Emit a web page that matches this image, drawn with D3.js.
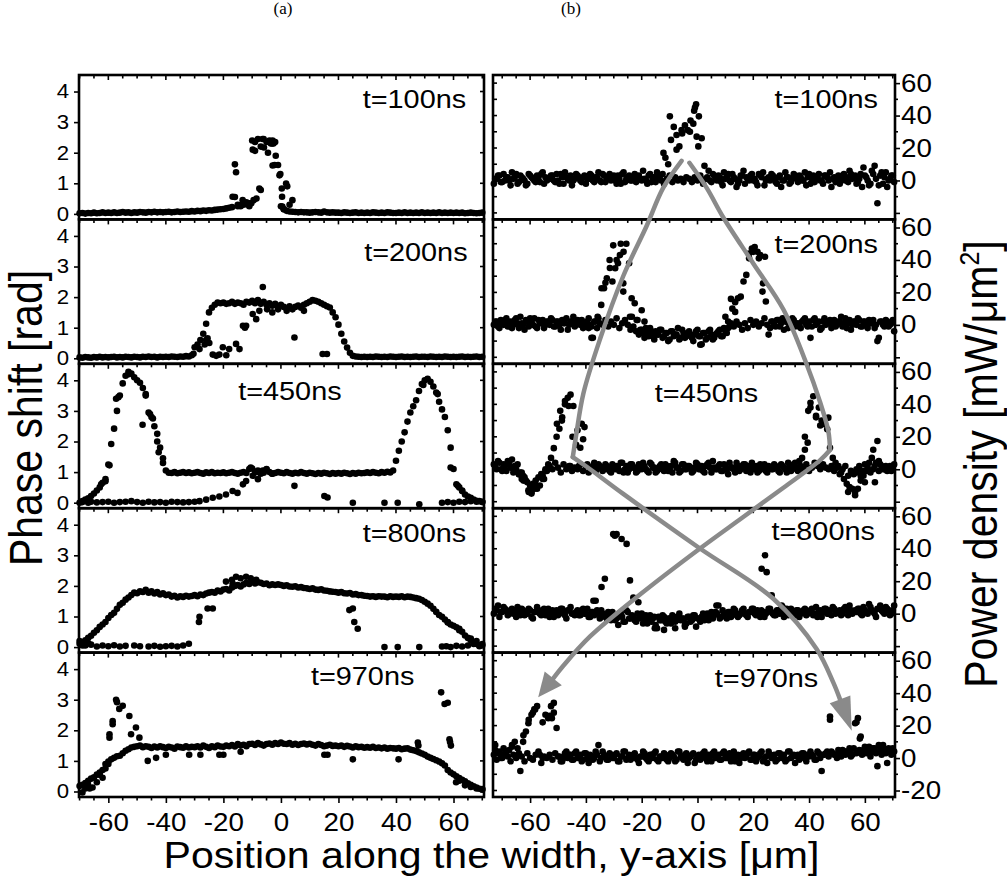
<!DOCTYPE html>
<html><head><meta charset="utf-8">
<script src="https://cdn.jsdelivr.net/npm/d3@7"></script>
<style>body{margin:0;background:#fff}svg{display:block}</style>
</head><body><svg id="c" width="1007" height="885"></svg>
<script>
// ---------------- DATA ----------------
const timeLabels = ["t=100ns","t=200ns","t=450ns","t=800ns","t=970ns"];
const panelTags = ["(a)","(b)"];
const titleLeft = "Phase shift [rad]";
const titleX = "Position along the width, y-axis [\u03bcm]";
const xMajorTicks = [-60,-40,-20,0,20,40,60];
const xMinorTicks = [-70,-65,-55,-50,-45,-35,-30,-25,-15,-10,-5,5,10,15,25,30,35,45,50,55,65,70];
const phaseTicks = [0,1,2,3,4];
const powerTicks = [-20,0,20,40,60];
const powerMinor = [-10,10,30,50];

// sample positions (um)
const posL = [-70,-69,-68,-67,-66,-65,-64,-63,-62,-61,-60,-59,-58,-57,-56,-55,-54,-53,-52,-51,
-50,-49,-48,-47,-46,-45,-44,-43,-42,-41,-40,-39,-38,-37,-36,-35,-34,-33,-32,-31,
-30,-29,-28,-27,-26,-25,-24,-23,-22,-21,-20,-19,-18,-17,-16,-15,-14,-13,-12,-11,
-10,-9,-8,-7,-6,-5,-4,-3,-2,-1,0,1,2,3,4,5,6,7,8,9,10,11,12,13,14,15,16,17,18,19,
20,21,22,23,24,25,26,27,28,29,30,31,32,33,34,35,36,37,38,39,40,41,42,43,44,45,46,47,48,49,
50,51,52,53,54,55,56,57,58,59,60,61,62,63,64,65,66,67,68,69,70];
const posR = [-73,-72,-71,-70,-69,-68,-67,-66,-65,-64,-63,-62,-61,-60,-59,-58,-57,-56,-55,-54,
-53,-52,-51,-50,-49,-48,-47,-46,-45,-44,-43,-42,-41,-40,-39,-38,-37,-36,-35,-34,
-33,-32,-31,-30,-29,-28,-27,-26,-25,-24,-23,-22,-21,-20,-19,-18,-17,-16,-15,-14,
-13,-12,-11,-10,-9,-8,-7,-6,-5,-4,-3,-2,-1,0,1,2,3,4,5,6,7,8,9,10,11,12,13,14,15,16,
17,18,19,20,21,22,23,24,25,26,27,28,29,30,31,32,33,34,35,36,37,38,39,40,41,42,43,44,45,46,
47,48,49,50,51,52,53,54,55,56,57,58,59,60,61,62,63,64,65,66,67,68,69,70];

// Phase shift, column (a)
const phase100 = [0.02,0.03,0.01,0.03,0.02,0.04,0.02,0.03,0.05,0.03, 0.04,0.03,0.05,0.03,0.04,0.06,0.04,0.05,0.03,0.05,
0.04,0.06,0.05,0.04,0.06,0.05,0.07,0.05,0.06,0.05, 0.06,0.07,0.05,0.06,0.08,0.06,0.07,0.08,0.07,0.09,
0.08,0.1,0.09,0.11,0.1,0.12,0.11,0.13,0.14,0.15, 0.16,0.18,0.2,0.22,0.55,0.25,0.28,0.3,0.32,0.35,
2.4,2.35,2.45,2.2,2.45,2.35,2.4,2.3,2.35,1.6, 0.25,0.15,0.1,0.08,0.07,0.06,0.05,0.06,0.05,0.05,
0.04,0.05,0.06,0.05,0.04,0.08,0.05,0.04,0.05,0.04, 0.04,0.03,0.05,0.04,0.03,0.04,0.05,0.03,0.04,0.03,
0.04,0.03,0.05,0.04,0.03,0.04,0.03,0.05,0.04,0.03, 0.03,0.04,0.03,0.05,0.03,0.04,0.03,0.04,0.03,0.05,
0.03,0.04,0.03,0.04,0.03,0.05,0.03,0.04,0.03,0.04, 0.03,0.04,0.03,0.04,0.02,0.03,0.04,0.03,0.02,0.03,0.04];
const phase100x = [[-16.8,0.56],[-16,1.62],[-15.6,1.36],[-15,0.3],[-13.3,0.45],[-12,0.38],[-10.3,0.35],[-9.5,0.45],[-8.5,0.5],[-7.5,0.83],[-7,0.78],[-9.8,2.1],[-9,2.06],[-6.4,2.45],[-5.9,2.17],[-4.5,2.0],[-3.5,2.3],[-2.9,2.4],[-2.6,2.3],[-1.8,1.9],[-2.9,1.58],[-2.2,1.6],[-0.5,1.26],[-0.2,1.3],[1.8,0.99],[2.2,0.9],[0.3,0.83],[0.4,0.56],[4,0.45],[3,0.3],[0.5,0.24],[1,0.15],[-14,0.25],[-11,0.25]];

const phase200 = [0.03,0.02,0.04,0.03,0.02,0.04,0.03,0.05,0.03,0.04, 0.03,0.04,0.05,0.03,0.04,0.03,0.05,0.04,0.03,0.05,
0.04,0.03,0.05,0.04,0.06,0.04,0.05,0.03,0.05,0.04, 0.05,0.04,0.06,0.05,0.04,0.06,0.05,0.07,0.06,0.1,
0.36,0.45,0.6,0.8,1.13,1.5,1.65,1.75,1.82,1.8, 1.82,1.78,1.8,1.85,1.78,1.82,1.8,1.75,1.85,1.82,
1.88,1.8,1.9,1.78,1.85,1.75,1.8,1.72,1.78,1.7, 1.75,1.68,1.62,1.7,1.6,1.68,1.72,1.65,1.75,1.8,
1.85,1.9,1.88,1.85,1.8,1.75,1.7,1.66,1.5,1.34, 1.1,0.8,0.55,0.35,0.18,0.08,0.06,0.05,0.04,0.05,
0.04,0.05,0.04,0.06,0.05,0.04,0.05,0.04,0.06,0.05, 0.04,0.05,0.06,0.04,0.05,0.04,0.05,0.06,0.04,0.05,
0.05,0.04,0.06,0.05,0.04,0.05,0.04,0.06,0.05,0.04, 0.05,0.04,0.05,0.06,0.04,0.05,0.04,0.05,0.06,0.04,0.05];
const phase200x = [[-30.4,0.15],[-28.3,0.3],[-26,0.6],[-24.9,0.5],[-23.7,0.12],[-21.4,0.12],[-20.2,0.36],[-18,0.3],[-15.6,0.47],[-14.4,0.3],[-13.2,1.06],[-12.1,1.06],[-12.5,1.0],[-9.8,1.45],[-8.6,1.28],[-7.5,1.55],[-6.3,2.33],[-4.8,1.6],[-3,1.5],[-1,1.6],[4.7,0.68],[14.5,0.14],[16,0.14],[8,1.55],[2,1.55],[-26.5,0.45],[-25.5,0.65],[-22.5,0.08],[-19,0.1]];

const phase450 = [0.0,0.05,0.1,0.14,0.22,0.3,0.4,0.5,0.65,0.77, 1.25,1.92,2.42,3.0,3.5,3.9,4.15,4.28,4.22,4.1,
4.0,3.92,3.75,3.5,2.95,2.8,2.5,2.25,1.8,1.45, 1.05,0.98,0.97,1.0,0.96,0.98,1.0,0.97,0.99,0.96,
0.98,1.0,0.97,0.95,0.99,0.97,1.0,0.96,0.98,0.97, 0.99,0.96,0.98,1.0,0.97,0.95,0.98,1.0,0.97,1.1,
1.12,1.0,1.05,0.95,0.98,1.08,1.0,0.95,0.97,1.0, 0.98,0.96,1.0,0.97,0.95,0.98,0.96,1.0,0.97,0.95,
0.98,0.96,0.94,0.97,0.95,0.98,0.96,0.94,0.97,0.95, 0.97,0.95,0.98,0.96,0.94,0.97,0.95,0.98,0.96,0.97,
0.99,0.97,1.0,0.98,0.96,1.0,0.98,1.01,0.99,1.05, 1.37,1.7,2.0,2.3,2.65,2.95,3.15,3.35,3.65,3.88,
4.0,4.05,3.95,3.8,3.6,3.3,3.05,2.8,2.37,1.8, 1.1,0.6,0.5,0.38,0.27,0.2,0.16,0.1,0.06,0.05,0.03];
const phase450x = [[-69,0.02],[-67,0.0],[-66,0.03],[-64,0.01],[-62,0.02],[-60,0.03],[-58,0.0],[-56,0.02],[-54,0.03],[-52,0.05],[-50,0.02],[-48,0.0],[-46,0.03],[-44,0.01],[-42,0.02],[-40,0.0],[-38,0.03],[-36,0.02],[-34,0.01],[-32,0.02],[-30,0.03],[-28.3,0.05],[-26,0.1],[-23.7,0.16],[-21.4,0.2],[-19.1,0.27],[-16.8,0.38],[-15.1,0.32],[-13.2,0.6],[-12.1,0.71],[-9.8,0.88],[-8,0.77],[-6.3,1.05],[4.7,0.55],[15.1,0.22],[16.2,0.17],[25,0.0],[36,0.0],[40.6,0.0],[48.1,-0.05],[56,0.0],[58,0.02],[60,0.0],[62,0.03],[64,0.02],[66,0.05],[68,0.03],[70,0.02],[-61,0.7],[-62.5,0.6],[-59.6,1.22],[-57.3,3.4],[-56.5,3.45],[-53,4.2],[-47,3.55],[-48.1,2.55],[-45.5,2.9],[-44.5,2.75],[-43,2.0],[-42.5,1.65],[-41,1.3],[49.5,3.85],[54.5,3.55],[59,1.15],[61.5,0.55],[63,0.4],[-10.5,1.15],[-8.5,1.0],[-5,1.1],[-3,0.95]];

const phase800 = [0.11,0.16,0.22,0.3,0.37,0.47,0.55,0.66,0.74,0.82, 0.95,1.05,1.12,1.25,1.38,1.45,1.55,1.62,1.7,1.78,
1.76,1.82,1.8,1.87,1.78,1.82,1.75,1.8,1.72,1.76, 1.7,1.72,1.65,1.68,1.62,1.66,1.64,1.68,1.65,1.67,
1.7,1.66,1.72,1.7,1.75,1.78,1.8,1.78,1.85,1.82, 1.88,1.9,1.85,1.95,2.0,2.03,1.98,2.05,2.1,2.06,
2.14,2.08,2.12,2.1,2.06,2.08,2.02,2.05,2.03,2.05, 2.03,2.0,2.02,1.98,1.97,1.99,1.95,1.96,1.93,1.92,
1.9,1.92,1.88,1.87,1.89,1.85,1.84,1.82,1.81,1.8, 1.78,1.8,1.76,1.75,1.77,1.72,1.73,1.7,1.7,1.68,
1.67,1.65,1.66,1.64,1.66,1.65,1.65,1.63,1.66,1.64, 1.65,1.64,1.66,1.63,1.65,1.64,1.62,1.6,1.58,1.54,
1.48,1.42,1.35,1.25,1.15,1.05,0.99,0.9,0.82,0.74, 0.7,0.65,0.6,0.5,0.38,0.3,0.22,0.15,0.1,0.06,0.05];
const phase800x = [[-19.1,2.14],[-17,2.2],[-15.6,2.3],[-14,2.25],[-12.1,2.3],[-10.5,2.25],[-8.6,2.2],[-16.8,2.08],[-70,0.2],[-68,0.05],[-66,0.08],[-64,0.02],[-62,0.05],[-60,0.03],[-58,0.06],[-56,0.02],[-54,0.04],[-51,0.05],[-49,0.03],[-46,0.02],[-44,0.04],[-42,0.01],[-40,0.03],[-38,0.04],[-36,0.02],[-34,0.05],[-32,0.11],[-28.3,0.99],[-28.5,0.82],[-25.5,1.26],[-23.7,1.26],[23.8,1.21],[25,1.26],[25.5,0.82],[26.7,0.6],[36,0.0],[40.6,0.0],[48.1,0.0],[56,0.02],[57.5,0.03],[59,0.0],[61,0.04],[63,0.02],[65,0.05],[67,0.1],[69,0.03],[70,0.1],[-69,0.05],[-67,0.12],[58,0.8],[62,0.55],[66,0.28],[68,0.2]];

const phase970 = [0.18,0.22,0.28,0.35,0.42,0.46,0.55,0.62,0.7,0.9, 0.98,1.05,1.1,1.15,1.17,1.25,1.33,1.38,1.44,1.46,
1.48,1.5,1.45,1.48,1.46,1.42,1.47,1.44,1.48,1.45, 1.42,1.46,1.44,1.4,1.47,1.45,1.43,1.48,1.44,1.46,
1.45,1.48,1.44,1.5,1.46,1.42,1.48,1.45,1.5,1.47, 1.46,1.5,1.48,1.52,1.47,1.55,1.5,1.53,1.48,1.55,
1.56,1.52,1.58,1.54,1.5,1.55,1.57,1.53,1.58,1.55, 1.6,1.56,1.55,1.58,1.53,1.56,1.52,1.55,1.57,1.54,
1.56,1.53,1.5,1.55,1.52,1.48,1.5,1.53,1.49,1.5, 1.48,1.5,1.46,1.49,1.47,1.44,1.48,1.45,1.46,1.43,
1.45,1.43,1.46,1.42,1.44,1.41,1.44,1.4,1.42,1.41, 1.4,1.42,1.38,1.4,1.41,1.37,1.35,1.32,1.28,1.24,
1.2,1.14,1.1,1.06,1.02,0.98,0.92,0.85,0.7,0.62, 0.56,0.5,0.44,0.38,0.33,0.27,0.22,0.17,0.13,0.09,0.06];
const phase970x = [[-69,-0.03],[-68,0.1],[-66.5,0.1],[-65.5,0.13],[-64,0.3],[-63,0.55],[-62,0.45],[-61,0.75],[-59.6,1.76],[-59.6,1.87],[-58.5,2.2],[-58.5,2.3],[-57.3,3.0],[-57,2.92],[-56.2,2.7],[-55,2.8],[-52.7,2.47],[-52.1,1.87],[-50.4,2.09],[-49.2,1.76],[-46.3,1.0],[-43.4,1.1],[-40,1.2],[-31.9,1.2],[-28,1.2],[-21.4,1.2],[-20,1.2],[-14,1.3],[15.1,1.2],[16.2,1.2],[25,1.05],[40.9,1.05],[47.6,1.6],[47.8,1.5],[55.7,3.24],[56.9,2.86],[58,2.9],[58.6,1.71],[59.1,1.5],[58.8,1.62],[60.9,0.3],[62,0.35],[64,0.2],[66,0.15],[68,0.1],[70,0.08],[-67,0.2],[-60,0.9]];

// Power density, column (b): two interleaved sample rows per panel
const power100 = [1,3,-1,4,2,0,5,2,-2,3, 1,-3,4,2,0,3,-1,5,2,1, 3,0,4,-2,2,5,1,3,0,4, 2,-1,3,1,4,0,2,5,-1,3,
1,4,2,0,3,-2,5,1,3,0, 4,2,1,6,0,3,-1,2,5,1, 4,14,10,25,33,28,21,29,34,31, 37,35,47,39.5,26,9,2,0,4,1,
3,-1,5,2,0,4,1,-2,3,6, 2,0,4,1,-3,3,5,0,2,4, 1,-2,3,0,5,2,-1,4,1,3, 0,5,2,-2,3,1,4,0,3,2,
5,1,-1,3,0,4,2,6,1,3, -1,4,8,2,-3,6,9,-14,3,-2, 5,0,3,-1];
const power100b = [-2,1,3,-1,0,2,-3,1,4,-1, 2,0,-2,3,1,-1,2,4,-2,0, 1,3,-1,0,4,-2,2,0,-3,1, 3,0,2,-2,1,3,-1,2,0,4,
-1,2,0,3,-2,1,4,-1,2,0, 2,-1,3,0,1,-2,4,2,-1,3, 0,-2,1,3,-1,2,0,1,-1,2, 1,-1,2,0,3,-2,1,6,-1,3,
0,2,-3,1,4,-1,2,-4,0,3, -2,1,3,0,-1,4,2,-3,1,0, 3,-1,2,-4,0,2,-2,1,3,-1, 2,0,-3,4,1,-1,2,0,-2,3,
0,-4,2,1,-2,3,0,-1,4,2, -2,1,-4,3,0,-2,4,1,-3,5, 2,-4,1,3];
const power100x = [[-12.2,17],[-9.9,39.5],[-7.5,19],[-5.7,31],[-2.7,30],[-0.9,45],[-0.3,27],[0.3,21],[-1.2,43]];

const power200 = [2,-1,3,0,4,1,-2,3,1,5, 0,3,-1,2,4,-2,1,3,0,2, 4,-1,2,0,3,1,-3,2,5,0, 1,3,-1,2,0,-8,2,4,12.3,22.6,
28.7,40,26.7,34.9,38,50,45,50,38,5, 13.3,3,-3,-5,-2,-7,-4,-9,-6,-3, -8,-5,-10,-4,-7,-6,-9,-3,-8,-5, -6,-10,-4,-7,-12,-5,-8,-3,-9,-6,
-4,-7,-2,-5,-1,10,14,16.4,17.4,26.7, 30.8,44,47,48,45,43,25.6,14.4,-6,2, 0,3,-1,4,2,-2,1,3,0,-1, 2,4,-1,-8,3,0,2,-2,4,1,
3,0,-1,2,5,1,-2,3,0,2, 4,-1,2,0,3,1,-2,-10,2,0, 3,-1,1,-4];
const power200b = [0,2,-2,1,3,-1,2,0,4,-2, 1,-3,2,4,0,-1,3,1,-2,2, 0,3,-1,2,-3,1,4,0,2,-1, 3,0,-2,1,4,-1,2,-2,1,0,
3,-1,2,0,4,-2,1,3,0,-3, -1,-4,-6,-3,-8,-5,-2,-7,-4,-6, -3,-7,-5,-9,-4,-6,-2,-8,-5,-7, -4,-8,-6,-3,-7,-5,-9,-4,-6,-8,
-5,-3,-7,-4,-2,1,-1,2,0,-3, 1,-2,3,0,2,-1,1,4,0,-2, 2,-1,3,1,-3,2,0,4,-1,1, -2,3,0,2,-1,4,1,-3,2,0,
1,-2,3,0,2,-1,4,1,-3,2, 0,3,-1,2,-2,1,3,0,-8,2, -1,2,0,3];
const power200x = [[-35.8,5],[-34.4,22.6],[-33,26],[-31.4,35],[-30.2,49],[-29,40],[-27.8,43],[-26.6,25.6],[-26.6,20.5],[-23.6,16.4],[-24.2,5],[-21.8,3],[-20,9],[-19,2],[1,-12.3],[13.5,8],[12,16],[18.5,41],[20,45],[22,41],[23.3,20.5],[24.2,42],[-38,-8],[-39,-2],[10,5],[11,2]];

const power450 = [2,5,0,3,-1,4,6,2,3,-2, -4,-7,-14,-15,-12,-11,-10,-6,-1,3, 7,13,20,25,32,40,44,46,39,15, 2,28,26,3,0,2,-1,3,1,0,
2,-1,3,0,1,4,-2,2,0,3, 1,-1,2,4,0,-2,3,1,-1,2, 0,3,-1,2,5,1,-2,3,0,2, 1,-1,4,0,2,-2,3,1,5,0,
2,-1,3,0,4,1,-2,2,0,3, -1,2,4,0,-2,3,1,-1,2,0, 3,1,-2,2,0,4,-1,3,1,5, 7,12,16.4,41,45,33,38,30,27.7,24.6,
13.3,7,4,2,-2,-6,-9,-11,-12,-16, -12,-7,-4,-1,4,7,2,17.4,3,0, 2,1,-1,3];
const power450b = [3,0,4,-1,2,5,1,-2,0,-3, -2,-5,-8,-10,-9,-7,-5,-3,-6,-1, 2,0,4,1,-2,3,0,2,-1,1, 0,3,-1,2,-2,1,4,0,2,-1,
3,0,-2,1,2,-1,4,0,-2,3, 1,-2,3,0,2,-1,4,1,-2,0, 3,-1,2,0,-2,4,1,-1,3,0, 2,-2,1,3,0,-1,2,4,-2,1,
0,3,-1,2,-3,1,0,4,-1,2, 3,0,-2,1,2,-1,0,3,-2,1, 0,2,-1,3,1,-2,2,0,4,-1, 2,0,3,-1,1,4,2,0,3,1,
0,2,-1,1,-3,0,2,-4,-1,-3, 0,2,-1,3,1,-2,0,4,-1,2, 0,-1,2,1];
const power450x = [[-62.4,-7],[-60.6,-13],[-59.5,-14],[-58,-10],[-57.5,-12],[-55.5,-4],[-54.5,0],[-50.4,28],[-49.2,36],[-48.6,30],[-46.2,39],[-45.6,2],[-44.8,20],[-47.5,42],[-42,13.3],[-41,18.5],[-43,24],[39.7,36],[40.5,38],[42.5,32],[46.9,31.8],[44,27],[38.5,20],[63.6,-8],[63,12],[54,-14],[56.5,-14],[58.5,-4],[60,-8],[57,-2],[65,5],[-64,-3],[-66,1],[-63,-6]];

const power800 = [3,5,1,4,2,0,3,1,4,-1, 2,0,3,-2,1,4,0,2,-1,3, 1,-2,2,0,3,-1,2,4,0,1, -1,2,0,3,-2,1,8,0,2,-1,
-3,-1,1,-4,-2,0,-5,2,-3,-1, -4,0,-2,-6,-1,-3,-5,-2,-9,-4, -1,-5,-3,-6,-2,-4,0,-3,-7,-2, -5,-1,-8,-3,-2,-4,0,-1,-3,1,
5,-2,0,-3,1,-1,2,-2,0,3, -1,1,3,0,2,-2,1,0,3,1, -1,2,0,4,1,-1,3,0,2,-2, 1,3,0,2,-1,4,1,-2,3,0,
2,4,0,1,-1,3,2,5,0,2, 3,0,4,1,6,2,0,3,5,1, 4,2,0,5];
const power800b = [0,2,-2,1,3,-1,2,0,-2,1, 3,-1,0,2,-3,1,2,-1,3,0, -2,2,0,-1,3,1,-3,2,0,-1, 2,-1,3,0,-2,1,-1,2,-3,0,
-2,1,-4,-1,-3,0,-2,-5,1,-3, -2,-5,-3,0,-4,-6,-1,-3,-7,-2, -4,-2,-6,-3,-1,-5,-2,-4,-3,-6, -2,-4,-1,-3,-5,0,-2,-4,1,-1,
0,-3,2,-1,1,-2,3,0,-1,2, 0,-2,1,3,-1,0,2,-2,1,3, 0,-1,2,1,-2,3,0,1,-1,2, 0,2,-1,1,3,0,-2,2,1,3,
0,-1,3,1,2,0,4,-1,2,1, 1,3,-1,2,0,4,1,-2,3,2, 0,3,-1,2];
const power800x = [[-30.2,49],[-29,49],[-29.6,48],[-27.2,46],[-25.4,43],[-34.4,16.4],[-33.2,21.5],[-24.2,20.5],[-23,10],[-21.2,7],[-37.3,8],[6.8,5],[24.2,36],[23,27.7],[24.8,25.6],[26.6,11.3],[30.2,5],[-28.4,-7],[-15.3,-9],[-4.5,-8],[-12,-10],[-8,-9]];

const power970 = [8,3,0,6,2,5,7,10,6,-8, 10,16.4,23.6,26.7,30,32,2,0,26.7,24.6, 32,34,18.5,1,-2,3,0,2,-1,4, 1,-2,3,0,2,-1,4,8,0,2,
-1,3,0,2,-2,1,4,-1,2,0, 3,-1,1,4,0,-2,2,3,-1,1, 0,2,-2,3,1,-1,4,0,2,-3, 1,3,-1,2,0,4,-2,1,3,0,
2,-1,4,0,3,1,-2,2,0,3, 1,4,-1,2,0,3,-2,1,4,0, 2,-1,3,1,-2,4,0,2,1,-1, 3,0,2,4,1,-1,3,-8,2,4,
25.6,3,2,5,1,4,3,6,2,21.5, 24.6,13.3,5,3,7,4,6,-5,5,8, 3,6,2,4];
const power970b = [2,-1,4,0,3,1,-2,2,0,3, 1,-2,3,0,-1,2,4,-3,1,0, 2,-1,3,1,-2,0,4,2,-1,3, 0,2,-1,3,-3,1,0,2,-2,4,
1,-1,2,0,3,-2,1,4,0,-1, 2,0,-3,1,3,-1,2,0,4,-2, 1,3,-1,0,2,-2,4,1,-1,3, 0,2,-3,1,-1,3,0,2,-2,4,
1,-1,3,0,2,-2,4,1,-3,2, 0,3,-1,2,-2,1,4,0,-3,2, 1,-2,3,0,2,-1,4,1,-3,2, 0,3,-2,1,2,-1,4,0,2,3,
1,4,2,0,3,5,2,4,1,6, 3,5,2,7,4,1,6,3,8,2, 5,-3,4,6];
const power970x = [[-72.5,5],[-70,2],[-66.5,8],[-62.4,14],[-60.6,21.5],[-59,28],[-58.2,30],[-55.5,22],[-52.2,24.6],[-51.5,28],[-53,26],[47.5,23.6],[58.2,12],[57,22],[60,4],[62,6],[66,7],[68,5],[53,4],[55,3]];

// gray guide arrows (x in um, y in panel-row units: 0 = top of first row, 5 = bottom of last)
const arrowA1 = [[-5.7,0.594],[-12.3,0.782],[-18.2,1.044],[-26.6,1.392],[-34.9,1.827],[-40.9,2.205],[-43.5,2.495],[-44.7,2.646]];
const arrowA2 = [[-44.7,2.646],[-39.7,2.713],[-26.6,2.901],[0.9,3.279],[27.2,3.627],[42.7,3.975],[48.7,4.208],[51.1,4.324]];
const arrowATip = [55.3,4.541];
const arrowB1 = [[-2.9,0.608],[3.3,0.782],[9.2,0.985],[20,1.305],[30.8,1.624],[39.1,2.001],[43.9,2.263],[46.9,2.466],[47.5,2.597]];
const arrowB2 = [[47.5,2.597],[43.9,2.669],[30.8,2.858],[16.4,3.061],[0.9,3.279],[-20.6,3.598],[-38.5,3.888],[-48.1,4.091],[-51.7,4.179]];
const arrowBTip = [-57.1,4.309];

// ---------------- LAYOUT ----------------
const FONT = '"Liberation Sans", Arial, Helvetica, sans-serif';
const SX = 1.11; // horizontal stretch of the original lettering
const rowTop = 75, rowH = 144.4;
const colL = [79, 484], colR = [493, 895];
const labelPosL = [[64.4,33],[64.9,42],[21.1,36],[64.4,33.5],[46.4,32.5]];
const labelPosR = [[64.7,33],[64.7,34],[21.8,38],[63.6,32],[43.3,34]];

const svg = d3.select('#c');
const xL = d3.scaleLinear().domain([-70.2,70.6]).range(colL);
const xR = d3.scaleLinear().domain([-73.3,70.8]).range(colR);
const rowScale = d3.scaleLinear().domain([0,5]).range([rowTop, rowTop + 5*rowH]);
const yLeft = i => d3.scaleLinear().domain([-0.18,4.54]).range([rowScale(i)+rowH, rowScale(i)]);
const yRight = i => d3.scaleLinear().domain([-24,65]).range([rowScale(i)+rowH, rowScale(i)]);

const phaseSets = [[phase100,phase100x],[phase200,phase200x],[phase450,phase450x],[phase800,phase800x],[phase970,phase970x]];
const powerSets = [[power100,power100b,power100x],[power200,power200b,power200x],[power450,power450b,power450x],[power800,power800b,power800x],[power970,power970b,power970x]];

function check(a,n,name){ if(a.length!==n) console.error(name+' length '+a.length+' expected '+n); }
phaseSets.forEach((s,i)=>check(s[0],posL.length,'phase'+i));
powerSets.forEach((s,i)=>{check(s[0],posR.length,'powerA'+i);check(s[1],posR.length,'powerB'+i);});

function stretchText(sel){
  sel.attr('transform', function(){
    const x = +(this.getAttribute('x')||0), y = +(this.getAttribute('y')||0);
    return `translate(${x},${y}) scale(${SX},1) translate(${-x},${-y})`;
  });
}
function styleAxis(g, fs){
  g.attr('font-family', FONT).attr('font-size', fs);
  g.select('.domain').remove();
  g.selectAll('line').attr('stroke','#000').attr('stroke-width',1.6);
  g.selectAll('text').attr('fill','#000');
  stretchText(g.selectAll('text'));
}
function tickLines(parent, items){ // items: [x1,y1,x2,y2]
  parent.selectAll(null).data(items).join('line')
    .attr('x1',d=>d[0]).attr('y1',d=>d[1]).attr('x2',d=>d[2]).attr('y2',d=>d[3])
    .attr('stroke','#000').attr('stroke-width',1.6);
}

const R = 3.3;
const allXTicks = xMajorTicks.concat(xMinorTicks);

for (let i=0;i<5;i++){
  const top = rowScale(i), bot = top + rowH;
  // ---- left panel (phase)
  const yl = yLeft(i);
  const gL = svg.append('g');
  gL.append('rect').attr('x',colL[0]).attr('y',top).attr('width',colL[1]-colL[0]).attr('height',rowH)
    .attr('fill','none').attr('stroke','#000').attr('stroke-width',2.6);
  gL.append('g').attr('transform',`translate(${colL[0]},0)`)
    .call(d3.axisLeft(yl).tickValues(phaseTicks).tickSize(5).tickPadding(5).tickFormat(d=>String(d)))
    .call(g=>styleAxis(g,20));
  tickLines(gL, phaseTicks.map(v=>[colL[1],yl(v),colL[1]-4,yl(v)]));
  tickLines(gL, allXTicks.filter(v=>v>-70.2).map(v=>[xL(v),top,xL(v),top+(xMajorTicks.includes(v)?5:3.5)]));
  const [main, extra] = phaseSets[i];
  const ptsL = posL.map((x,k)=>[x,main[k]]).concat(extra);
  gL.append('g').selectAll('circle').data(ptsL).join('circle')
    .attr('cx',d=>xL(d[0])).attr('cy',d=>yl(d[1])).attr('r',R).attr('fill','#000');
  const lp = labelPosL[i];
  gL.append('text').attr('x',xL(lp[0])).attr('y',top+lp[1]).attr('text-anchor','end')
    .attr('font-family',FONT).attr('font-size',26).text(timeLabels[i]).call(stretchText);

  // ---- right panel (power)
  const yr = yRight(i);
  const gR = svg.append('g');
  gR.append('rect').attr('x',colR[0]).attr('y',top).attr('width',colR[1]-colR[0]).attr('height',rowH)
    .attr('fill','none').attr('stroke','#000').attr('stroke-width',2.6);
  gR.append('g').attr('transform',`translate(${colR[1]},0)`)
    .call(d3.axisRight(yr).tickValues(powerTicks).tickSize(5).tickPadding(1)
      .tickFormat(d=> (i<4 && d===-20) ? '' : String(d)))
    .call(g=>styleAxis(g,25));
  tickLines(gR, powerMinor.map(v=>[colR[1],yr(v),colR[1]+3,yr(v)]));
  tickLines(gR, powerTicks.concat(powerMinor).map(v=>[colR[0],yr(v),colR[0]+4,yr(v)]));
  tickLines(gR, allXTicks.map(v=>[xR(v),top,xR(v),top+(xMajorTicks.includes(v)?5:3.5)]));
  const [pa, pb, px] = powerSets[i];
  const ptsR = posR.map((x,k)=>[x,pb[k]]).concat(posR.map((x,k)=>[x+0.5,pa[k]])).concat(px);
  gR.append('g').selectAll('circle').data(ptsR).join('circle')
    .attr('cx',d=>xR(d[0])).attr('cy',d=>yr(d[1])).attr('r',R).attr('fill','#000');
  const rp = labelPosR[i];
  gR.append('text').attr('x',xR(rp[0])).attr('y',top+rp[1]).attr('text-anchor','end')
    .attr('font-family',FONT).attr('font-size',26).text(timeLabels[i]).call(stretchText);

  if (i===4){
    svg.append('g').attr('transform',`translate(0,${bot})`)
      .call(d3.axisBottom(xL).tickValues(xMajorTicks).tickSize(6).tickPadding(10).tickFormat(d=>String(d)))
      .call(g=>styleAxis(g,25));
    tickLines(svg.append('g'), xMinorTicks.map(v=>[xL(v),bot,xL(v),bot+3.5]));
    svg.append('g').attr('transform',`translate(0,${bot})`)
      .call(d3.axisBottom(xR).tickValues(xMajorTicks).tickSize(6).tickPadding(10).tickFormat(d=>String(d)))
      .call(g=>styleAxis(g,25));
    tickLines(svg.append('g'), xMinorTicks.map(v=>[xR(v),bot,xR(v),bot+3.5]));
  }
}

// ---- gray arrows
const GRAY = '#8a8a8a';
const line = d3.line().x(d=>xR(d[0])).y(d=>rowScale(d[1])).curve(d3.curveCatmullRom.alpha(0.5));
const gA = svg.append('g');
[arrowA1, arrowA2, arrowB1, arrowB2].forEach(p=>{
  gA.append('path').attr('d',line(p)).attr('fill','none').attr('stroke',GRAY)
    .attr('stroke-width',4.5).attr('stroke-linejoin','round').attr('stroke-linecap','round');
});
function head(basePt, tipPt){
  const bx=xR(basePt[0]), by=rowScale(basePt[1]), tx=xR(tipPt[0]), ty=rowScale(tipPt[1]);
  const dx=tx-bx, dy=ty-by, L=Math.hypot(dx,dy), ux=dx/L, uy=dy/L, w=11;
  const pts=[[tx,ty],[bx-uy*w,by+ux*w],[bx+uy*w,by-ux*w]];
  gA.append('path').attr('d','M'+pts.map(p=>p.join(',')).join('L')+'Z').attr('fill',GRAY);
}
head(arrowA2[arrowA2.length-1], arrowATip);
head(arrowB2[arrowB2.length-1], arrowBTip);

// ---- titles
svg.append('text').attr('transform',`translate(42,418) scale(${SX},1) rotate(-90)`)
  .attr('text-anchor','middle').attr('font-family',FONT).attr('font-size',41).text(titleLeft);
const tr = svg.append('text').attr('transform',`translate(997,464) scale(${SX},1) rotate(-90)`)
  .attr('text-anchor','middle').attr('font-family',FONT).attr('font-size',41);
tr.append('tspan').text('Power density [mW/\u03bcm');
tr.append('tspan').attr('font-size',25).attr('dy',-16).text('2');
tr.append('tspan').attr('dy',16).text(']');
svg.append('text').attr('transform',`translate(491.5,868) scale(${SX},1)`)
  .attr('text-anchor','middle').attr('font-family',FONT).attr('font-size',37).text(titleX);
svg.append('text').attr('x',283).attr('y',14).attr('text-anchor','middle')
  .attr('font-family','"Liberation Serif", "Times New Roman", serif').attr('font-size',17).text(panelTags[0]);
svg.append('text').attr('x',571).attr('y',14).attr('text-anchor','middle')
  .attr('font-family','"Liberation Serif", "Times New Roman", serif').attr('font-size',17).text(panelTags[1]);
</script></body></html>
